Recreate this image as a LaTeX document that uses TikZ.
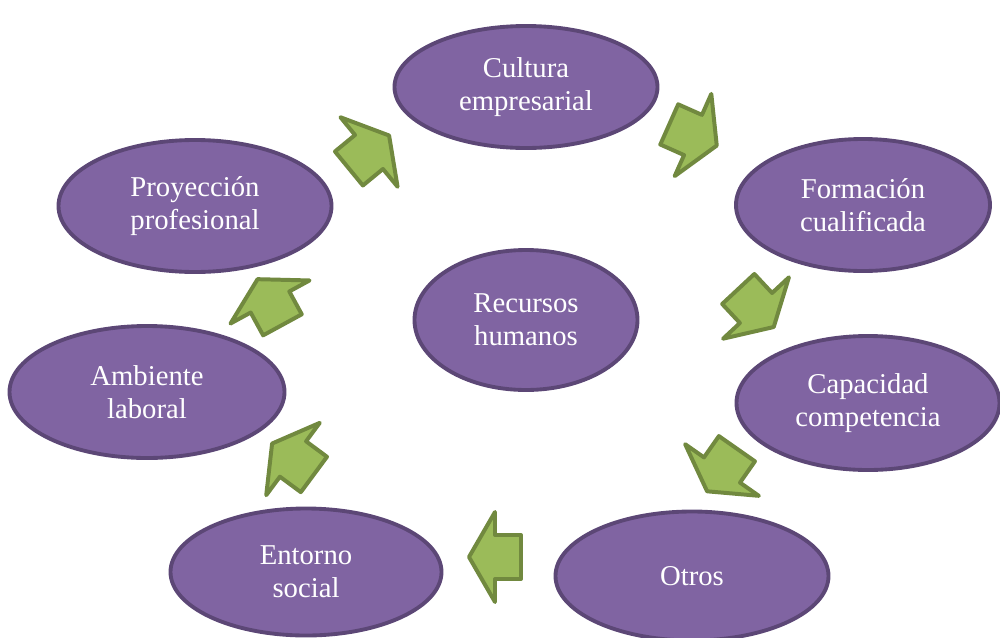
\documentclass[tikz,border=0pt]{standalone}
\usepackage{fontspec}
\setmainfont{Liberation Serif}
\usetikzlibrary{shapes.geometric}

\definecolor{morado}{HTML}{8064A2}
\definecolor{moradoborde}{HTML}{5C4776}
\definecolor{verde}{HTML}{9BBB59}
\definecolor{verdeborde}{HTML}{71893F}

\newdimen\pxl
\pxl=0.03cm

\tikzset{
  elipse/.style={ellipse, draw=moradoborde, fill=morado, line width=3.3pt, inner sep=0pt,
    text=white, align=center, font=\fontsize{24.5}{28.2}\selectfont},
  flecha/.style={draw=verdeborde, fill=verde, line width=3.4pt, line join=round}
}

\begin{document}
\begin{tikzpicture}[x=0.03cm, y=-0.03cm]

\useasboundingbox (0,0) rectangle (1000,637);

% Centre
\node[elipse, minimum width=223\pxl, minimum height=140\pxl] (recursos) at (526,320) {Recursos\\humanos};

% Cycle
\node[elipse, minimum width=263\pxl, minimum height=122\pxl] (cultura) at (526,87) {Cultura\\empresarial};
\node[elipse, minimum width=254\pxl, minimum height=132\pxl] (formacion) at (863,205) {Formación\\cualificada};
\node[elipse, minimum width=263\pxl, minimum height=134\pxl] (capacidad) at (868,403) {Capacidad\\competencia};
\node[elipse, minimum width=273\pxl, minimum height=129\pxl] (otros) at (692,576) {Otros};
\node[elipse, minimum width=271\pxl, minimum height=127\pxl] (entorno) at (306,572) {Entorno\\social};
\node[elipse, minimum width=275\pxl, minimum height=132\pxl] (ambiente) at (147,392) {Ambiente\\laboral};
\node[elipse, minimum width=273\pxl, minimum height=132\pxl] (proyeccion) at (195,206) {Proyección\\profesional};

% Arrows between the ellipses
\foreach \cx/\cy/\ang in {693/135/-24, 756/308/-47, 722/470/-125, 495/557/180,
                          293/459/143.5, 270/302/118.6, 369/152/39.4} {
\draw[flecha, shift={(\cx,\cy)}, rotate=\ang]
  (-26,-22) -- (0,-22) -- (0,-45) -- (26,0) -- (0,45) -- (0,22) -- (-26,22) -- cycle;
}

\end{tikzpicture}
\end{document}
